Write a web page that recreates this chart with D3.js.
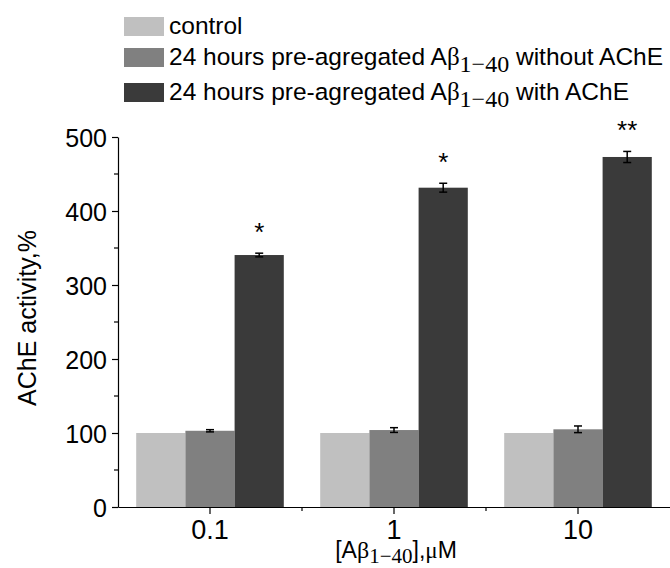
<!DOCTYPE html>
<html><head><meta charset="utf-8">
<script src="https://cdn.jsdelivr.net/npm/d3@7"></script>
<style>body{margin:0;background:#fff}svg{display:block}text{font-family:Arial,"Liberation Sans",sans-serif;fill:#000}</style>
</head><body>
<svg id="c" width="670" height="568"></svg>
<script>
const categories = ["0.1", "1", "10"];
const seriesNames = ["control", "without", "with"];
const controlValues = [100, 100, 100];
const withoutValues = [103, 104, 105];
const withValues = [340.5, 431.5, 473];
const withoutErrors = [1.5, 3.2, 4.5];
const withErrors = [2.5, 6, 7.5];
const significance = ["*", "*", "**"];
const yTicks = [0, 100, 200, 300, 400, 500];
const yMinorTicks = [50, 150, 250, 350, 450];
const colors = ["#c0c0c0", "#808080", "#3a3a3a"];
const serif = "'Liberation Serif','Times New Roman',serif";

const svg = d3.select("#c");
const y = d3.scaleLinear().domain([0, 500]).range([507, 137]);
const x = d3.scaleBand().domain(categories).range([118, 670]).paddingInner(0).paddingOuter(0);
const xs = d3.scaleBand().domain(seriesNames).range([0, x.bandwidth()]).paddingOuter(0.37).paddingInner(0);

const rows = categories.map((c, i) => ({
  c, vals: [controlValues[i], withoutValues[i], withValues[i]],
  errs: [0, withoutErrors[i], withErrors[i]], sig: significance[i]
}));

rows.forEach(r => {
  const g = svg.append("g").attr("transform", `translate(${x(r.c)},0)`);
  seriesNames.forEach((s, j) => {
    g.append("rect").attr("x", xs(s)).attr("width", xs.bandwidth())
      .attr("y", y(r.vals[j])).attr("height", y(0) - y(r.vals[j]))
      .attr("fill", colors[j]);
  });
  seriesNames.forEach((s, j) => {
    if (!r.errs[j]) return;
    const cx = xs(s) + xs.bandwidth() / 2;
    const y1 = y(r.vals[j] + r.errs[j]), y2 = y(r.vals[j] - r.errs[j]);
    const e = g.append("g").attr("stroke", "#000").attr("stroke-width", 1.5);
    e.append("line").attr("x1", cx).attr("x2", cx).attr("y1", y1).attr("y2", y2);
    e.append("line").attr("x1", cx - 4).attr("x2", cx + 4).attr("y1", y1).attr("y2", y1);
    e.append("line").attr("x1", cx - 4).attr("x2", cx + 4).attr("y1", y2).attr("y2", y2);
  });
  const cx = xs("with") + xs.bandwidth() / 2;
  g.append("text").attr("x", cx).attr("y", y(r.vals[2] + r.errs[2]) - 12)
    .attr("text-anchor", "middle").style("font-size", "26px").text(r.sig);
});

// y axis
const yAxis = svg.append("g").attr("transform", "translate(118,0)")
  .call(d3.axisLeft(y).tickValues(yTicks).tickSize(6).tickSizeOuter(0));
yAxis.select(".domain").attr("stroke", "#000").attr("stroke-width", 1.2);
yAxis.selectAll(".tick line").attr("stroke", "#000").attr("stroke-width", 1.2);
yAxis.selectAll(".tick text").style("font-size", "25px").attr("x", -11).attr("dy", "0.36em");
svg.append("g").selectAll("line").data(yMinorTicks).join("line")
  .attr("x1", 114).attr("x2", 118).attr("y1", d => y(d)).attr("y2", d => y(d))
  .attr("stroke", "#000").attr("stroke-width", 1.2);

// x axis
const xAxis = svg.append("g").attr("transform", "translate(0,507)")
  .call(d3.axisBottom(x).tickSize(7).tickSizeOuter(0));
xAxis.select(".domain").attr("stroke", "#000").attr("stroke-width", 1.2);
xAxis.selectAll(".tick line").attr("stroke", "#000").attr("stroke-width", 1.2);
xAxis.selectAll(".tick text").style("font-size", "27px").attr("y", 32).attr("dy", 0);
svg.append("g").selectAll("line").data(categories.slice(1)).join("line")
  .attr("x1", d => x(d)).attr("x2", d => x(d)).attr("y1", 507).attr("y2", 511)
  .attr("stroke", "#000").attr("stroke-width", 1.2);

// x title
const xt = svg.append("text").attr("x", 396).attr("y", 558).attr("text-anchor", "middle").style("font-size", "23px");
xt.append("tspan").text("[A");
xt.append("tspan").style("font-family", serif).style("font-size", "24px").text("β");
xt.append("tspan").attr("dy", 5).style("font-family", serif).style("font-size", "21px").text("1−40");
xt.append("tspan").attr("dy", -5).text("],");
xt.append("tspan").style("font-family", serif).text("μ");
xt.append("tspan").text("M");

// y title
svg.append("text").attr("transform", "translate(36,318) rotate(-90)").attr("text-anchor", "middle")
  .style("font-size", "25px").text("AChE activity,%");

// legend
const legendY = [17, 48, 83];
const legend = svg.append("g");
seriesNames.forEach((s, i) => {
  legend.append("rect").attr("x", 124).attr("y", legendY[i]).attr("width", 40).attr("height", 19).attr("fill", colors[i]);
  const t = legend.append("text").attr("x", 169).attr("y", legendY[i] + 17).style("font-size", "24.5px");
  if (i === 0) { t.text("control"); return; }
  t.append("tspan").text("24 hours pre-agregated A");
  t.append("tspan").style("font-family", serif).style("font-size", "25px").text("β");
  t.append("tspan").attr("dy", 7).style("font-family", serif).style("font-size", "24px").text("1−40");
  t.append("tspan").attr("dy", -7).text(i === 1 ? " without AChE" : " with AChE");
});
</script>
</body></html>
